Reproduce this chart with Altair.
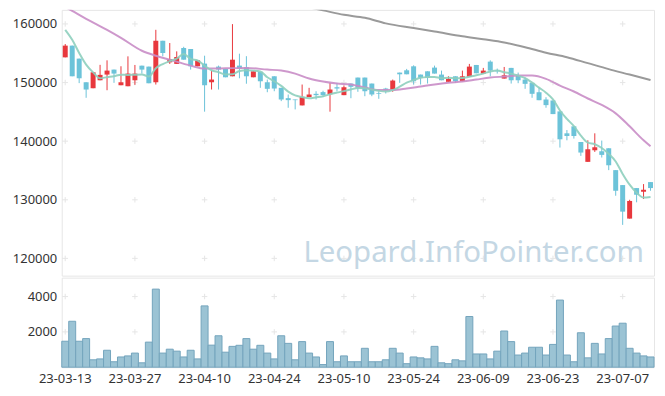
import altair as alt
import pandas as pd

# ---- categories: trading days (KRX holidays removed) ----
holidays = ["2023-05-01", "2023-05-05", "2023-05-29", "2023-06-06"]
days = [d for d in pd.bdate_range("2023-03-13", "2023-07-13") if d.strftime("%Y-%m-%d") not in holidays]
labels = [d.strftime("%y-%m-%d") for d in days]
tick_labels = labels[0::10][:9]

# ---- OHLC ----
opens = [154300, 156300, 154080, 150050, 149030, 150390, 151360, 152210, 149540, 149370,
         150390, 152880, 152720, 150050, 157130, 153450, 153180, 155890, 155720, 152770,
         153230, 150050, 152720, 152330, 151070, 152890, 152600, 150900, 151820, 150050,
         151070, 149100, 147340, 147110, 146100, 147510, 148080, 148370, 148010, 149200,
         147850, 149830, 150850, 150850, 149830, 148200, 148980, 148690, 151700, 152090,
         152770, 151360, 151920, 152550, 151360, 150120, 151070, 150220, 150970, 153000,
         151530, 153570, 152040, 150680, 152500, 151190, 150510, 149950, 148350, 147110,
         146940, 145080, 141340, 142530, 139860, 136470, 138450, 138280, 138790, 135060,
         132510, 126790, 132000, 131370, 133020]
closes = [156300, 151070, 150730, 148810, 151750, 151310, 152040, 151530, 150050, 151530,
          151530, 152210, 149880, 157130, 155040, 154020, 154360, 153900, 152770, 153790,
          149540, 150510, 152210, 150900, 153900, 152380, 151070, 151920, 150220, 148930,
          148980, 147110, 147000, 147000, 147570, 147960, 147850, 147850, 148810, 148980,
          149200, 149270, 149100, 148520, 147960, 148080, 148690, 150340, 151410, 151410,
          150220, 150800, 150800, 151530, 150390, 150630, 150220, 151070, 152720, 151580,
          152040, 152040, 151920, 151240, 150390, 150390, 149780, 148080, 146990, 146150,
          144620, 140320, 140880, 140880, 138060, 138620, 138960, 137660, 135890, 131540,
          127980, 129800, 130860, 131710, 132000]
highs = [156570, 156300, 154080, 150050, 151750, 153020, 153790, 152210, 152780, 154470,
         153000, 152880, 152720, 159000, 157130, 156740, 155320, 156100, 155720, 153790,
         154580, 152040, 152890, 152330, 159970, 154920, 154500, 151920, 151820, 150510,
         151070, 149100, 147960, 147110, 149660, 149100, 148520, 148600, 149950, 149950,
         149500, 149830, 150850, 150850, 149830, 148520, 149100, 150510, 151700, 152330,
         152940, 151360, 151920, 152890, 152040, 151070, 151070, 152040, 153180, 153000,
         152500, 153790, 152380, 152660, 152500, 151700, 150850, 149950, 149100, 147500,
         146940, 145080, 141900, 142530, 139860, 140150, 141340, 140100, 138790, 135060,
         132510, 130000, 132000, 132680, 133020]
lows = [154300, 151070, 149900, 147400, 149030, 150390, 148690, 149950, 149540, 149370,
        149610, 151530, 149880, 149660, 154470, 153180, 153180, 153900, 152210, 152770,
        145030, 148810, 148810, 150900, 151070, 150730, 149800, 150900, 149100, 148350,
        148520, 146830, 145700, 145420, 146100, 147510, 147110, 147510, 145030, 148520,
        147850, 147330, 148420, 147670, 147670, 147230, 148130, 148420, 149950, 151410,
        149660, 149660, 149830, 151530, 150390, 150120, 149950, 150220, 150970, 151580,
        151530, 151070, 151530, 150680, 149830, 149890, 148930, 147400, 146990, 145700,
        144620, 138910, 140150, 140440, 137490, 136470, 138170, 137210, 135060, 130690,
        125720, 126790, 129570, 130130, 131540]
volumes = [1470, 2600, 1470, 1620, 420, 470, 960, 310, 580, 640,
           800, 250, 1420, 4420, 800, 1020, 910, 580, 960, 470,
           3470, 1250, 1780, 850, 1180, 1240, 1620, 1020, 1240, 800,
           470, 1780, 1350, 420, 1450, 800, 580, 150, 1450, 310,
           640, 310, 310, 1070, 310, 310, 420, 1070, 800, 200,
           580, 530, 470, 1180, 250, 200, 420, 360, 2870, 750,
           750, 470, 910, 2050, 1450, 690, 800, 1130, 1130, 690,
           1290, 3800, 690, 310, 1950, 530, 1350, 750, 1620, 2330,
           2490, 1070, 800, 640, 580]

# MA5 values before 5 closes are available
ma5_seed = [159000, 157300, 155040, 153060]

ma20_idx = [0, 1, 3, 6, 8, 11, 13, 15, 18, 20, 23, 26, 29, 31, 33, 35, 37, 39, 41, 43, 45,
            47, 49, 51, 53, 55, 57, 59, 61, 63, 65, 67, 69, 71, 73, 75, 77, 79, 81, 83, 84]
ma20_val = [162900, 162230, 160870, 159000, 157640, 155430, 154580, 153900, 152890, 152380,
            152430, 152500, 152210, 152040, 151530, 150680, 150170, 149830, 149660, 149150,
            148730, 148730, 148980, 149320, 149660, 149950, 150170, 150510, 150850, 151020,
            151190, 151190, 150630, 149490, 148470, 147280, 146180, 144740, 142530, 140150,
            139130]
ma60_idx = [35, 37, 40, 43, 46, 50, 53, 57, 60, 63, 66, 69, 72, 75, 78, 81, 84]
ma60_val = [162820, 162310, 161550, 161040, 160100, 159290, 158710, 157900, 157390, 156840,
            156030, 155090, 154330, 153310, 152290, 151360, 150420]

price_ticks = [120000, 130000, 140000, 150000, 160000]
volume_ticks = [2000, 4000]
watermark = "Leopard.InfoPointer.com"

RED = "#e8383d"
BLUE = "#6cc3d9"

df = pd.DataFrame({
    "idx": list(range(len(labels))),
    "label": labels,
    "open": opens, "close": closes, "high": highs, "low": lows, "volume": volumes,
    "ma5_seed": ma5_seed + [None] * (len(labels) - len(ma5_seed)),
})
ma20_df = pd.DataFrame({"label": [labels[i] for i in ma20_idx], "v": ma20_val})
ma60_df = pd.DataFrame({"label": [labels[i] for i in ma60_idx], "v": ma60_val})
grid_p = pd.DataFrame([{"label": l, "v": v} for l in tick_labels for v in price_ticks])
grid_v = pd.DataFrame([{"label": l, "v": v} for l in tick_labels for v in volume_ticks])

xscale = alt.Scale(domain=labels, paddingInner=0, paddingOuter=0)
x_none = alt.X("label:O", scale=xscale, axis=None)
yscale = alt.Scale(domain=[117060, 162400], nice=False, zero=False)
yaxis = alt.Axis(values=price_ticks, format="d", grid=False, ticks=False, domain=False,
                 labelPadding=5, minExtent=53, maxExtent=53, title=None)
color_cond = alt.condition("datum.close >= datum.open", alt.value(RED), alt.value(BLUE))

base = alt.Chart(df)
cross_shape = "M-1,0L1,0M0,-1L0,1"

grid_price = alt.Chart(grid_p).mark_point(shape=cross_shape, size=30, filled=False,
                                          color="#dcdcdc", strokeWidth=1).encode(
    x=x_none, y=alt.Y("v:Q", scale=yscale, axis=yaxis))
wm = alt.Chart(pd.DataFrame({"t": [watermark]})).mark_text(
    align="right", baseline="alphabetic", fontSize=29.5, color="#c4d7e4", font="Noto Sans"
).encode(x=alt.value(585), y=alt.value(253), text="t:N")
wicks = base.mark_rule(strokeWidth=1).encode(
    x=x_none, y=alt.Y("low:Q", scale=yscale, axis=yaxis), y2="high:Q", color=color_cond)
bodies = base.mark_bar(size=5).encode(
    x=x_none, y=alt.Y("open:Q", scale=yscale, axis=yaxis), y2="close:Q", color=color_cond)
ma5 = base.transform_window(
    ma5w="mean(close)", frame=[-4, 0], sort=[alt.SortField("idx")]
).transform_calculate(
    ma5="datum.idx < 4 ? datum.ma5_seed : datum.ma5w"
).mark_line(color="#8ecfbe", strokeWidth=2, interpolate="monotone", opacity=0.9, clip=True).encode(
    x=x_none, y=alt.Y("ma5:Q", scale=yscale, axis=yaxis))
ma20 = alt.Chart(ma20_df).mark_line(color="#c98dc6", strokeWidth=2, interpolate="monotone",
                                    opacity=0.9, clip=True).encode(
    x=x_none, y=alt.Y("v:Q", scale=yscale, axis=yaxis))
ma60 = alt.Chart(ma60_df).mark_line(color="#9a9a9a", strokeWidth=2, interpolate="monotone",
                                    clip=True).encode(
    x=x_none, y=alt.Y("v:Q", scale=yscale, axis=yaxis))

price = alt.layer(grid_price, wm, wicks, bodies, ma60, ma20, ma5).properties(width=595, height=267)

vscale = alt.Scale(domain=[0, 5070], nice=False)
vaxis = alt.Axis(values=volume_ticks, format="d", grid=False, ticks=False, domain=False,
                 labelPadding=5, minExtent=53, maxExtent=53, title=None)
x_lab = alt.X("label:O", scale=xscale, title=None,
              axis=alt.Axis(values=tick_labels, labelAngle=0, ticks=False, domain=False,
                            labelPadding=5, grid=False))
vol_bars = base.mark_bar(fill="#9bc3d4", stroke="#74a4bc", strokeWidth=1).encode(
    x=x_lab, y=alt.Y("volume:Q", scale=vscale, axis=vaxis))
grid_vol = alt.Chart(grid_v).mark_point(shape=cross_shape, size=30, filled=False,
                                        color="#dcdcdc", strokeWidth=1).encode(
    x=x_lab, y=alt.Y("v:Q", scale=vscale, axis=vaxis))
volume = alt.layer(grid_vol, vol_bars).properties(width=595, height=90)

chart = alt.vconcat(price, volume, spacing=0).properties(
    padding={"left": 0, "top": 0, "right": 2, "bottom": 0}
).configure_view(stroke="#e6e6e6").configure_axis(
    labelFont="Noto Sans", labelFontSize=13, labelColor="#333333"
)

chart.save("out.html", embed_options={"renderer": "svg", "actions": False})
